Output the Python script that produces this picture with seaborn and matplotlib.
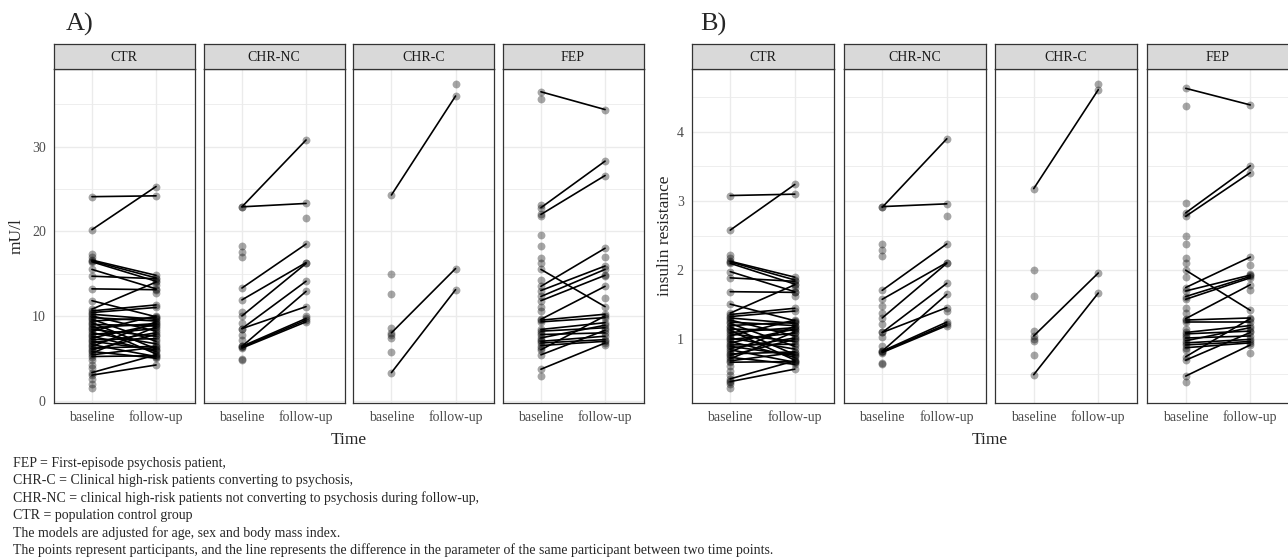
import pandas as pd
import seaborn as sns
import matplotlib.pyplot as plt
from matplotlib.ticker import MultipleLocator

groups = ['CTR', 'CHR-NC', 'CHR-C', 'FEP']
times = ['baseline', 'follow-up']

# insulin (mU/l); None = no measurement at that time point
ins_ctr_base = [24.1, 20.2, 16.6, 16.5, 16.4, 15.5, 14.7, 13.2, 11.8, 10.8,
                10.6, 10.4, 10.2, 10.0, 9.8, 9.6, 9.4, 9.2, 9.0, 8.8,
                8.6, 8.4, 8.2, 8.0, 7.8, 7.6, 7.4, 7.2, 7.0, 6.8,
                6.6, 6.4, 6.2, 6.0, 5.8, 5.6, 5.4, 5.2, 3.3, 3.0,
                17.3, 17.0, 4.8, 4.2, 3.8, 2.5, 2.0, 1.5, None, None]
ins_ctr_follow = [24.2, 25.3, 14.8, 14.5, 14.1, 13.2, 14.4, 13.1, 9.9, 14.0,
                  11.3, 11.0, 9.6, 8.2, 9.4, 7.0, 9.8, 6.1, 8.8, 5.5,
                  9.1, 7.6, 10.0, 6.7, 8.5, 5.8, 9.0, 7.3, 6.0, 8.0,
                  5.2, 9.3, 6.4, 7.8, 5.0, 8.7, 6.3, 5.3, 5.4, 4.2,
                  None, None, None, None, None, None, None, None, 12.7, 13.7]

ins_nc_base = [22.9, 22.9, 13.3, 11.9, 10.0, 8.5, 8.5, 6.4, 6.4, 6.3, 6.2,
               18.3, 17.6, 17.0, 10.5, 9.2, 7.8, 7.2, 4.9, 4.8, None, None]
ins_nc_follow = [30.8, 23.3, 18.5, 16.3, 16.2, 14.1, 11.1, 12.9, 9.7, 9.5, 9.3,
                 None, None, None, None, None, None, None, None, None,
                 21.6, 10.0]

ins_c_base = [24.3, 8.0, 3.3, 15.0, 12.6, 8.6, 7.7, 7.4, 5.75, None]
ins_c_follow = [36.0, 15.6, 13.1, None, None, None, None, None, None, 37.4]

ins_fep_base = [36.5, 22.8, 22.0, 15.5, 13.5, 13.0, 12.3, 11.8, 9.6, 9.5,
                9.3, 8.4, 8.2, 7.8, 7.4, 7.0, 6.8, 6.5, 6.0, 5.4, 3.7,
                35.6, 23.1, 21.8, 19.6, 18.3, 16.9, 16.2, 14.3, 11.1, 10.6,
                8.0, 7.2, 6.2, 2.9, None, None, None, None]
ins_fep_follow = [34.4, 28.3, 26.6, 11.1, 18.0, 15.9, 15.5, 14.8, 13.5, 10.2,
                  9.8, 9.2, 8.6, 8.0, 8.9, 7.6, 7.2, 7.0, 10.0, 8.3, 6.8,
                  None, None, None, None, None, None, None, None, None, None,
                  None, None, None, None, 17.0, 14.7, 12.1, 6.6]

# insulin resistance
ir_ctr_base = [3.08, 2.58, 2.13, 2.12, 2.10, 1.98, 1.89, 1.69, 1.51, 1.38,
               1.36, 1.33, 1.31, 1.28, 1.25, 1.23, 1.20, 1.18, 1.15, 1.13,
               1.10, 1.08, 1.05, 1.02, 1.00, 0.97, 0.95, 0.92, 0.90, 0.87,
               0.85, 0.82, 0.79, 0.77, 0.74, 0.72, 0.69, 0.67, 0.43, 0.39,
               2.22, 2.18, 0.62, 0.55, 0.49, 0.40, 0.35, 0.30, None, None]
ir_ctr_follow = [3.10, 3.24, 1.90, 1.86, 1.80, 1.69, 1.84, 1.68, 1.27, 1.79,
                 1.45, 1.41, 1.23, 1.05, 1.20, 0.90, 1.25, 0.78, 1.13, 0.70,
                 1.17, 0.97, 1.28, 0.86, 1.09, 0.74, 1.15, 0.93, 0.77, 1.02,
                 0.67, 1.19, 0.82, 1.00, 0.64, 1.11, 0.81, 0.68, 0.69, 0.57,
                 None, None, None, None, None, None, None, None, 1.63, 1.75]

ir_nc_base = [2.91, 2.92, 1.71, 1.58, 1.31, 1.10, 1.10, 0.83, 0.83, 0.82, 0.81,
              2.38, 2.29, 2.20, 1.48, 1.38, 1.22, 1.03, 0.90, 0.66, 0.65,
              None, None]
ir_nc_follow = [3.90, 2.96, 2.38, 2.11, 2.10, 1.81, 1.46, 1.65, 1.25, 1.22, 1.20,
                None, None, None, None, None, None, None, None, None, None,
                2.78, 1.41]

ir_c_base = [3.18, 1.05, 0.49, 2.01, 1.63, 1.12, 1.00, 0.97, 0.77, None]
ir_c_follow = [4.61, 1.96, 1.67, None, None, None, None, None, None, 4.69]

ir_fep_base = [4.63, 2.83, 2.78, 2.00, 1.75, 1.70, 1.62, 1.58, 1.30, 1.28,
               1.25, 1.10, 1.08, 1.02, 0.98, 0.95, 0.92, 0.88, 0.75, 0.70, 0.47,
               4.37, 2.97, 2.49, 2.38, 2.18, 2.10, 1.90, 1.45, 1.38, 1.15,
               1.05, 0.85, 0.39, None, None, None, None]
ir_fep_follow = [4.39, 3.51, 3.41, 1.42, 2.19, 1.93, 1.91, 1.89, 1.79, 1.31,
                 1.25, 1.20, 1.12, 1.05, 1.17, 1.00, 0.97, 0.95, 1.30, 1.10, 0.92,
                 None, None, None, None, None, None, None, None, None, None,
                 None, None, None, 2.08, 1.94, 1.71, 0.81]

notes = [
    'FEP = First-episode psychosis patient,',
    'CHR-C = Clinical high-risk patients converting to psychosis,',
    'CHR-NC = clinical high-risk patients not converting to psychosis '
    'during follow-up,',
    'CTR = population control group',
    'The models are adjusted for age, sex and body mass index.',
    'The points represent participants, and the line represents the '
    'difference in the parameter of the same participant between two '
    'time points.',
]

sns.set_style('white')
plt.rcParams['font.family'] = ['Liberation Serif', 'DejaVu Serif']

W, H = 1288, 560


def long_table(pairs):
    rows = []
    for group, (base, follow) in zip(groups, pairs):
        for pid, (b, f) in enumerate(zip(base, follow)):
            for t, v in zip(times, (b, f)):
                if v is not None:
                    rows.append({'group': group, 'pid': pid, 'Time': t,
                                 'value': v})
    df = pd.DataFrame(rows)
    df['Time'] = pd.Categorical(df['Time'], categories=times)
    return df


def px_rect(left, top, width, height):
    return [left / W, 1 - (top + height) / H, width / W, height / H]


def draw_panel(fig, df, lefts, width, major, minor, ylabel, label_x, tag,
               tag_x):
    lo, hi = df['value'].min(), df['value'].max()
    pad = (hi - lo) * 0.05
    top, bottom = 69, 403
    for i, (group, left) in enumerate(zip(groups, lefts)):
        ax = fig.add_axes(px_rect(left, top, width, bottom - top))
        sub = df[df['group'] == group]
        sns.lineplot(data=sub, x='Time', y='value', units='pid',
                     estimator=None, sort=False, color='black', lw=1.2,
                     ax=ax)
        sns.scatterplot(data=sub, x='Time', y='value', color='black',
                        alpha=0.35, s=32, linewidth=0, ax=ax)
        ax.set_xlim(-0.6, 1.6)
        ax.set_ylim(lo - pad, hi + pad)
        ax.yaxis.set_major_locator(MultipleLocator(major))
        ax.yaxis.set_minor_locator(MultipleLocator(minor))
        ax.set_axisbelow(True)
        ax.grid(True, which='major', color='#EBEBEB', lw=1.0)
        ax.grid(True, which='minor', axis='y', color='#EBEBEB', lw=0.6)
        ax.set_xlabel('')
        ax.set_ylabel('')
        for sp in ax.spines.values():
            sp.set_color('#333333')
            sp.set_linewidth(0.9)
        ax.tick_params(which='minor', length=0)
        ax.tick_params(axis='x', length=3.5, width=0.9, color='#333333',
                       labelsize=10, labelcolor='#4D4D4D', pad=2)
        if i == 0:
            ax.tick_params(axis='y', length=3.5, width=0.9, color='#333333',
                           labelsize=10, labelcolor='#4D4D4D', pad=2)
        else:
            ax.tick_params(axis='y', length=0, labelleft=False)
        strip = fig.add_axes(px_rect(left, 43.5, width, 25.5))
        strip.set_facecolor('#D9D9D9')
        strip.set_xticks([])
        strip.set_yticks([])
        for sp in strip.spines.values():
            sp.set_color('#333333')
            sp.set_linewidth(0.9)
        strip.text(0.5, 0.47, group, ha='center', va='center', fontsize=10,
                   color='#1A1A1A', transform=strip.transAxes)
    mid = (lefts[0] + lefts[-1] + width) / 2
    fig.text(mid / W, 1 - 440 / H, 'Time', ha='center', va='center',
             fontsize=12.5)
    fig.text(label_x / W, 1 - (top + bottom) / 2 / H, ylabel, rotation=90,
             ha='center', va='center', fontsize=12.5)
    fig.text(tag_x / W, 1 - 31 / H, tag, ha='left', va='baseline',
             fontsize=19)


fig = plt.figure(figsize=(W / 100, H / 100), dpi=100, facecolor='white')

insulin = long_table([(ins_ctr_base, ins_ctr_follow),
                      (ins_nc_base, ins_nc_follow),
                      (ins_c_base, ins_c_follow),
                      (ins_fep_base, ins_fep_follow)])
resist = long_table([(ir_ctr_base, ir_ctr_follow),
                     (ir_nc_base, ir_nc_follow),
                     (ir_c_base, ir_c_follow),
                     (ir_fep_base, ir_fep_follow)])

draw_panel(fig, insulin, [53.5, 203.5, 353, 502.5], 141, 10, 5, 'mU/l',
           17, 'A)', 66)
draw_panel(fig, resist, [691.5, 843.5, 995, 1147], 142, 1, 0.5,
           'insulin resistance', 665, 'B)', 700)

for k, line in enumerate(notes):
    fig.text(13 / W, 1 - (463.5 + k * 17.3) / H, line, ha='left',
             va='center', fontsize=10)

fig.savefig('out.png', dpi=100, facecolor='white')
